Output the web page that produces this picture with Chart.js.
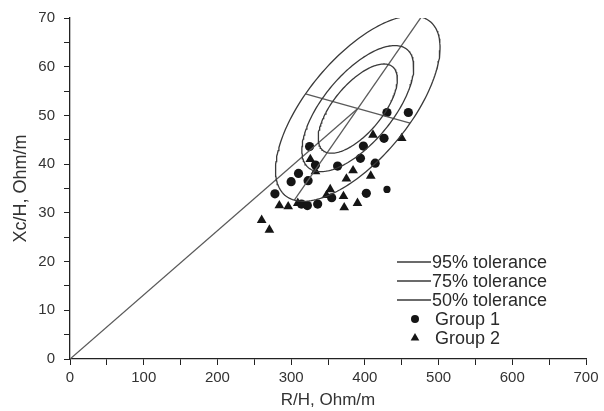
<!DOCTYPE html>
<html>
<head>
<meta charset="utf-8">
<script src="https://cdn.jsdelivr.net/npm/chart.js@4"></script>
<style>
  body { margin: 0; background: #fff; }
  #rxcChart { display: block; }
</style>
</head>
<body>
<canvas id="rxcChart" width="604" height="411"></canvas>
<script>
// R/H and Xc/H values
const group1R = [278, 300, 310, 323, 325, 333, 314, 322, 336, 355, 363, 394, 398, 414, 426, 402, 430, 430, 459];
const group1Xc = [33.9, 36.4, 38.1, 36.6, 43.6, 39.8, 31.8, 31.5, 31.8, 33.1, 39.6, 41.2, 43.7, 40.2, 45.3, 34.0, 34.8, 50.6, 50.6];
const group1Size = [4.6, 4.6, 4.6, 4.6, 4.6, 4.6, 4.6, 4.6, 4.6, 4.6, 4.6, 4.6, 4.6, 4.6, 4.6, 4.6, 3.6, 4.6, 4.6];

const group2R = [260, 270.5, 284, 296, 309, 326, 333, 348, 353, 371, 372, 375, 384, 390, 408, 411, 450];
const group2Xc = [28.5, 26.5, 31.5, 31.3, 32.0, 41.0, 38.5, 33.6, 34.8, 33.4, 31.1, 37.0, 38.7, 32.0, 37.6, 46.0, 45.3];

// tolerance ellipses: mean vector, semi-axes of the 95% ellipse, and scale of each level
const ellipseCenter = [390.4, 51.4];
const majorSemiAxis = [86.1, 18.8];
const minorSemiAxis = [71, -3];
const toleranceLabels = ['95% tolerance', '75% tolerance', '50% tolerance'];
const toleranceScale = [1, 0.68, 0.481];

const xTicks = [0, 100, 200, 300, 400, 500, 600, 700];
const yTicks = [0, 10, 20, 30, 40, 50, 60, 70];

const toPoints = (xs, ys) => xs.map((x, i) => ({ x: x, y: ys[i] }));

const ellipsePoints = (k) => {
  let pts = [];
  for (let deg = 0; deg <= 360; deg += 2) {
    const t = (deg * Math.PI) / 180;
    pts.push({
      x: ellipseCenter[0] + k * (majorSemiAxis[0] * Math.cos(t) + minorSemiAxis[0] * Math.sin(t)),
      y: ellipseCenter[1] + k * (majorSemiAxis[1] * Math.cos(t) + minorSemiAxis[1] * Math.sin(t)),
    });
  }
  return pts;
};

const lineStyle = {
  showLine: true,
  pointRadius: 0,
  borderColor: '#3a3a3a',
  borderWidth: 1.3,
  tension: 0,
  fill: false,
};

const datasets = [];

toleranceScale.forEach((k, i) => {
  datasets.push({ ...lineStyle, label: toleranceLabels[i], data: ellipsePoints(k) });
});

// line from the origin to the mean, and the two axes of the 95% ellipse
datasets.push({ ...lineStyle, label: 'origin', borderColor: '#5a5a5a', data: [{ x: 0, y: 0 }, { x: ellipseCenter[0], y: ellipseCenter[1] }] });
datasets.push({
  ...lineStyle,
  label: 'major',
  borderColor: '#5a5a5a',
  data: [
    { x: ellipseCenter[0] - majorSemiAxis[0], y: ellipseCenter[1] - majorSemiAxis[1] },
    { x: ellipseCenter[0] + majorSemiAxis[0], y: ellipseCenter[1] + majorSemiAxis[1] },
  ],
});
datasets.push({
  ...lineStyle,
  label: 'minor',
  borderColor: '#5a5a5a',
  data: [
    { x: ellipseCenter[0] - minorSemiAxis[0], y: ellipseCenter[1] - minorSemiAxis[1] },
    { x: ellipseCenter[0] + minorSemiAxis[0], y: ellipseCenter[1] + minorSemiAxis[1] },
  ],
});

datasets.push({
  label: 'Group 1',
  data: toPoints(group1R, group1Xc),
  pointStyle: 'circle',
  pointRadius: group1Size,
  backgroundColor: '#151515',
  borderColor: '#151515',
  borderWidth: 0,
});
datasets.push({
  label: 'Group 2',
  data: toPoints(group2R, group2Xc),
  pointStyle: 'triangle',
  pointRadius: 5.6,
  backgroundColor: '#151515',
  borderColor: '#151515',
  borderWidth: 0,
});

const fontFamily = "'Liberation Sans', Arial, sans-serif";

// legend drawn inside the plot, bottom right
const innerLegend = {
  id: 'innerLegend',
  afterDatasetsDraw(chart) {
    const ctx = chart.ctx;
    const area = chart.chartArea;
    const x0 = area.right - 189;
    const y0 = 262;
    const rowH = 19;
    ctx.save();
    ctx.font = '18px ' + fontFamily;
    ctx.fillStyle = '#2a2a2a';
    ctx.textBaseline = 'middle';
    ctx.textAlign = 'left';
    toleranceLabels.forEach((label, i) => {
      const y = y0 + i * rowH;
      ctx.strokeStyle = '#3a3a3a';
      ctx.lineWidth = 1.3;
      ctx.beginPath();
      ctx.moveTo(x0, y);
      ctx.lineTo(x0 + 34, y);
      ctx.stroke();
      ctx.fillText(label, x0 + 35, y + 1);
    });
    const markers = [
      ['Group 1', 'circle', 4],
      ['Group 2', 'triangle', 5],
    ];
    markers.forEach((m, i) => {
      const y = y0 + (3 + i) * rowH;
      ctx.fillStyle = '#151515';
      Chart.helpers.drawPoint(ctx, { pointStyle: m[1], radius: m[2], borderWidth: 0 }, x0 + 18, y);
      ctx.fillStyle = '#2a2a2a';
      ctx.fillText(m[0], x0 + 38, y + 1);
    });
    ctx.restore();
  },
};

new Chart(document.getElementById('rxcChart').getContext('2d'), {
  type: 'scatter',
  data: { datasets: datasets },
  options: {
    responsive: false,
    animation: false,
    layout: { padding: { top: 18, right: 18, left: 0, bottom: 0 } },
    plugins: {
      legend: { display: false },
      tooltip: { enabled: false },
    },
    scales: {
      x: {
        type: 'linear',
        min: 0,
        max: 700,
        afterFit: (scale) => {
          scale.height = 52;
        },
        afterBuildTicks: (scale) => {
          let t = [];
          for (let v = 0; v <= 700; v += 50) t.push({ value: v });
          scale.ticks = t;
        },
        ticks: {
          callback: (v) => (xTicks.includes(v) ? v : ''),
          color: '#333',
          font: { family: fontFamily, size: 15 },
          padding: 4,
          maxRotation: 0,
          autoSkip: false,
        },
        grid: { drawOnChartArea: false, drawTicks: true, tickLength: 6, color: '#222', lineWidth: 1 },
        border: { color: '#222', width: 1.3 },
        title: {
          display: true,
          text: 'R/H, Ohm/m',
          color: '#333',
          font: { family: fontFamily, size: 17 },
          padding: { top: 0, bottom: 0 },
        },
      },
      y: {
        type: 'linear',
        min: 0,
        max: 70,
        afterFit: (scale) => {
          scale.width = 70;
        },
        afterBuildTicks: (scale) => {
          let t = [];
          for (let v = 0; v <= 70; v += 5) t.push({ value: v });
          scale.ticks = t;
        },
        ticks: {
          callback: (v) => (yTicks.includes(v) ? v : ''),
          color: '#333',
          font: { family: fontFamily, size: 15 },
          padding: 9,
          autoSkip: false,
        },
        grid: { drawOnChartArea: false, drawTicks: true, tickLength: 6, color: '#222', lineWidth: 1 },
        border: { color: '#222', width: 1.3 },
        title: {
          display: true,
          text: 'Xc/H, Ohm/m',
          color: '#333',
          font: { family: fontFamily, size: 18 },
          padding: { top: 10, bottom: 2 },
        },
      },
    },
  },
  plugins: [innerLegend],
});
</script>
</body>
</html>
